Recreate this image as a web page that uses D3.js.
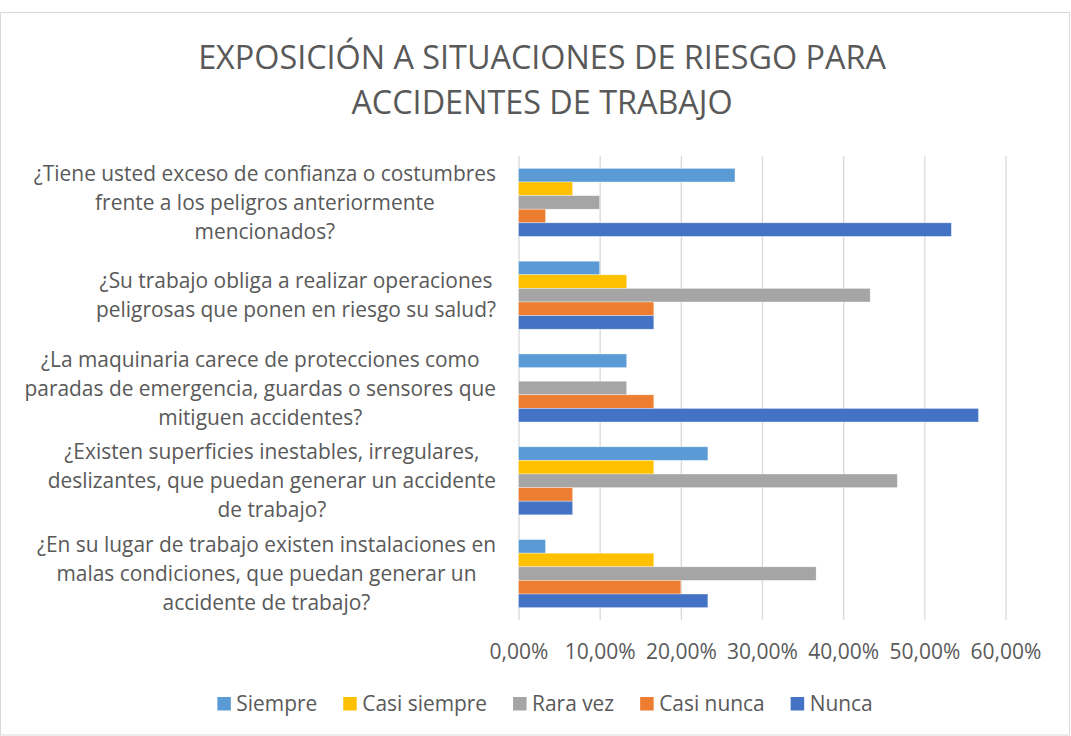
<!DOCTYPE html>
<html>
<head>
<meta charset="utf-8">
<script src="https://cdn.jsdelivr.net/npm/d3@7"></script>
<style>
  html, body { margin: 0; padding: 0; background: #fff; }
  svg { display: block; font-family: "Open Sans", "Noto Sans", sans-serif; }
</style>
</head>
<body>
<svg id="chart" width="1071" height="736"></svg>
<script>
// ---- DATA ----
const titleLines = ["EXPOSICIÓN A SITUACIONES DE RIESGO PARA", "ACCIDENTES DE TRABAJO"];
const categories = [
  ["¿Tiene usted exceso de confianza o costumbres", "frente a los peligros anteriormente", "mencionados?"],
  ["¿Su trabajo obliga a realizar operaciones", "peligrosas que ponen en riesgo su salud?"],
  ["¿La maquinaria carece de protecciones como", "paradas de emergencia, guardas o sensores que", "mitiguen accidentes?"],
  ["¿Existen superficies inestables, irregulares,", "deslizantes, que puedan generar un accidente", "de trabajo?"],
  ["¿En su lugar de trabajo existen instalaciones en", "malas condiciones, que puedan generar un", "accidente de trabajo?"]
];
const seriesNames = ["Siempre", "Casi siempre", "Rara vez", "Casi nunca", "Nunca"];
const siempre     = [0.2667, 0.1000, 0.1333, 0.2333, 0.0333];
const casiSiempre = [0.0667, 0.1333, 0.0000, 0.1667, 0.1667];
const raraVez     = [0.1000, 0.4333, 0.1333, 0.4667, 0.3667];
const casiNunca   = [0.0333, 0.1667, 0.1667, 0.0667, 0.2000];
const nunca       = [0.5333, 0.1667, 0.5667, 0.0667, 0.2333];
const xTicks = [0, 0.1, 0.2, 0.3, 0.4, 0.5, 0.6];
const colors = ["#5B9BD5", "#FFC000", "#A5A5A5", "#ED7D31", "#4472C4"];

const seriesValues = [siempre, casiSiempre, raraVez, casiNunca, nunca];
const catKeys = categories.map((c, i) => "c" + i);

// ---- LAYOUT ----
const svg = d3.select("#chart");
const W = 1071, H = 736;
const plot = { left: 518.5, right: 1005.5, top: 156, bottom: 620 };
const textColor = "#595959";

function squeeze(sel, k) {
  sel.each(function () {
    const w = this.getComputedTextLength();
    this.setAttribute("textLength", w * k);
    this.setAttribute("lengthAdjust", "spacingAndGlyphs");
    this.__w = w * k;
  });
}

// border
svg.append("rect")
  .attr("x", 0.5).attr("y", 12.5).attr("width", W - 2).attr("height", H - 13.5)
  .attr("fill", "#fff").attr("stroke", "#D9D9D9").attr("stroke-width", 1);

// title
svg.append("g").selectAll("text").data(titleLines).join("text")
  .attr("x", 542).attr("y", (d, i) => 69 + i * 45)
  .attr("text-anchor", "middle")
  .attr("fill", textColor)
  .style("font-size", "33px")
  .text(d => d)
  .call(squeeze, 0.98);

const x = d3.scaleLinear().domain([0, 0.6]).range([plot.left, plot.right]);
const y = d3.scaleBand().domain(catKeys).range([plot.top, plot.bottom]).paddingInner(0).paddingOuter(0);
const ys = d3.scaleBand().domain(seriesNames).range([0, y.bandwidth()]).paddingInner(0).paddingOuter(0.91);

// gridlines via axis
const xAxis = d3.axisBottom(x).tickValues(xTicks)
  .tickSize(-(plot.bottom - plot.top))
  .tickFormat(d => (d * 100).toFixed(2).replace(".", ",") + "%");
const gx = svg.append("g").attr("transform", `translate(0,${plot.bottom})`).call(xAxis);
gx.select(".domain").remove();
gx.selectAll(".tick line").attr("stroke", "#D9D9D9").attr("stroke-width", 1.3);
gx.selectAll(".tick text")
  .attr("y", 39).attr("dy", 0)
  .attr("fill", textColor)
  .style("font-size", "21px")
  .style("font-family", '"Open Sans", sans-serif')
  .call(squeeze, 1.0);

// bars
const gBars = svg.append("g");
seriesValues.forEach((vals, si) => {
  gBars.append("g").selectAll("rect").data(vals).join("rect")
    .attr("x", x(0))
    .attr("y", (d, ci) => y(catKeys[ci]) + ys(seriesNames[si]))
    .attr("width", d => x(d) - x(0))
    .attr("height", ys.bandwidth())
    .attr("fill", colors[si])
    .attr("stroke", d => d > 0 ? "#ffffff" : "none")
    .attr("stroke-opacity", 0.5)
    .attr("stroke-width", 0.7);
});

// category labels
const labelRight = 496;
const lineH = 29;
categories.forEach((lines, ci) => {
  const g = svg.append("g");
  const cy = y(catKeys[ci]) + y.bandwidth() / 2;
  const t = g.selectAll("text").data(lines).join("text")
    .attr("y", (d, i) => cy + (i - (lines.length - 1) / 2) * lineH + 7.5)
    .attr("text-anchor", "middle")
    .attr("fill", textColor)
    .style("font-size", "22px")
    .text(d => d)
    .call(squeeze, 0.95);
  let maxW = 0;
  t.each(function () { maxW = Math.max(maxW, this.__w); });
  t.attr("x", labelRight - maxW / 2);
});

// legend
const legend = svg.append("g");
const items = legend.selectAll("g").data(seriesNames).join("g");
items.append("rect").attr("width", 13.5).attr("height", 13.5).attr("y", 697)
  .attr("fill", (d, i) => colors[i]);
items.append("text").attr("x", 19).attr("y", 711)
  .attr("fill", textColor).style("font-size", "22px")
  .text(d => d).call(squeeze, 0.95);
let cx = 0; const pos = [];
items.each(function () {
  const tw = d3.select(this).select("text").node().__w;
  pos.push(cx);
  cx += 19 + tw + 26;
});
const total = cx - 26;
const startX = 545 - total / 2;
items.attr("transform", (d, i) => `translate(${startX + pos[i]},0)`);
</script>
</body>
</html>
